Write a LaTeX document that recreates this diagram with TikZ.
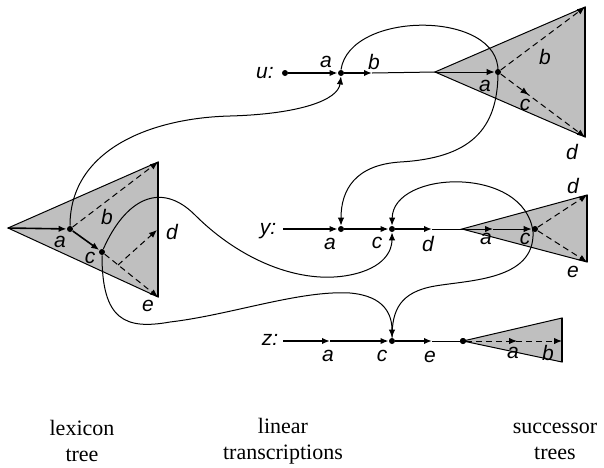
\documentclass[tikz,border=0pt]{standalone}
\usepackage{fontspec}
\setmainfont{Liberation Serif}
\newfontfamily\labfont{Liberation Sans}
\usetikzlibrary{arrows.meta,decorations.markings}
\begin{document}
\begin{tikzpicture}[x=0.5pt,y=-0.5pt,
  tr/.style={line width=0.8pt},
  thinl/.style={line width=0.5pt},
  dsh/.style={line width=0.5pt,dash pattern=on 3pt off 2pt},
  tip/.style={-{Latex[length=4pt,width=3.2pt]}},
  marr/.style={postaction={decorate},decoration={markings,mark=at position #1 with {\arrow{Latex[length=4pt,width=3.2pt]}}}},
  st/.style={circle,fill=black,inner sep=0pt,minimum size=3pt},
  lab/.style={font=\labfont\itshape\fontsize{10.5}{12}\selectfont,inner sep=0pt},
  treebox/.style={fill=black!25,draw=black,line width=0.5pt},
  edgeline/.style={line width=0.8pt},
  link/.style={line width=0.5pt},
  caption/.style={font=\fontsize{11}{13}\selectfont,align=center,inner sep=0pt},
]
\useasboundingbox (0,0) rectangle (604,467);

% ---------- trees (backgrounds) ----------
\coordinate (lapex) at (8,228);
\coordinate (ltop) at (158,162);
\coordinate (lbot) at (158,297);
\filldraw[treebox] (lapex) -- (ltop) -- (lbot) -- cycle;
\draw[edgeline] (ltop) -- (lbot);

\coordinate (uapex) at (435,72);
\coordinate (utop) at (585,7);
\coordinate (ubot) at (585,137);
\filldraw[treebox] (uapex) -- (utop) -- (ubot) -- cycle;
\draw[edgeline] (utop) -- (ubot);

\coordinate (yapex) at (462,229);
\coordinate (ytop) at (587,195);
\coordinate (ybot) at (587,262);
\filldraw[treebox] (yapex) -- (ytop) -- (ybot) -- cycle;
\draw[edgeline] (ytop) -- (ybot);

\coordinate (ztop) at (562,318);
\coordinate (zbot) at (562,362);
\coordinate (zend) at (562,341);

% ---------- lexicon tree ----------
\node[st] (la) at (70,229) {};
\node[st] (lc) at (102,252) {};
\coordinate (lm) at (118,265);
\coordinate (ld) at (157,230);
\draw[tr,tip] (lapex) -- (la);
\draw[tr,tip] (la) -- (lc);
\draw[dsh,tip] (la) -- (ltop);
\draw[dsh,tip] (lc) -- (lbot);
\draw[dsh,tip] (lm) -- (ld);
\node[lab] at (60,242) {a};
\node[lab] at (107,217) {b};
\node[lab] at (90,258) {c};
\node[lab] at (172,232) {d};
\node[lab] at (148,306) {e};

% ---------- row u ----------
\node[lab] at (265,73) {u:};
\node[st] (u0) at (285,73) {};
\node[st] (ua) at (341,73) {};
\coordinate (ub) at (372,73);
\node[st] (ut) at (498,72) {};
\draw[tr,tip] (u0) -- (ua);
\draw[tr,tip] (ua) -- (ub);
\draw[thinl] (ub) -- (uapex);
\draw[thinl,tip] (uapex) -- (ut);
\draw[dsh,tip] (ut) -- (utop);
\draw[dsh,tip,marr=0.33] (ut) -- (ubot);
\node[lab] at (326,62) {a};
\node[lab] at (374,62) {b};
\node[lab] at (485,86) {a};
\node[lab] at (545,57) {b};
\node[lab] at (525,105) {c};
\node[lab] at (572,152) {d};

% ---------- row y ----------
\node[lab] at (268,231) {y:};
\coordinate (y0) at (283,229);
\node[st] (ya) at (341,229) {};
\node[st] (yc) at (392,229) {};
\coordinate (yd) at (432,229);
\coordinate (yt1) at (493,229);
\node[st] (yt) at (535,229) {};
\draw[tr,tip] (y0) -- (ya);
\draw[tr,tip] (ya) -- (yc);
\draw[tr,tip] (yc) -- (yd);
\draw[thinl] (yd) -- (yapex);
\draw[thinl,tip] (yapex) -- (yt1);
\draw[thinl,tip] (yt1) -- (yt);
\draw[dsh,tip] (yt) -- (ytop);
\draw[dsh,tip] (yt) -- (ybot);
\node[lab] at (330,244) {a};
\node[lab] at (377,243) {c};
\node[lab] at (428,244) {d};
\node[lab] at (486,239) {a};
\node[lab] at (525,239) {c};
\node[lab] at (573,186) {d};
\node[lab] at (573,272) {e};

% ---------- row z ----------
\node[lab] at (270,340) {z:};
\coordinate (z0) at (283,341);
\coordinate (za) at (330,341);
\node[st] (zc) at (392,341) {};
\coordinate (ze) at (432,341);
\node[st] (zt) at (463,341) {};
\filldraw[treebox] (zt.center) -- (ztop) -- (zbot) -- cycle;
\draw[edgeline] (ztop) -- (zbot);
\node[st] at (zt) {};
\draw[tr,tip] (z0) -- (za);
\draw[tr,tip] (za) -- (zc);
\draw[tr,tip] (zc) -- (ze);
\draw[thinl] (ze) -- (zt);
\draw[dsh,tip,marr=0.53] (zt) -- (zend);
\node[lab] at (328,356) {a};
\node[lab] at (382,356) {c};
\node[lab] at (430,357) {e};
\node[lab] at (513,353) {a};
\node[lab] at (548,353) {b};

% ---------- links ----------
\draw[link,tip] (la) .. controls (70,150) and (150,118) .. (230,116)
  .. controls (300,114) and (338,100) .. (ua.south);
\draw[link,tip] (ua.north) .. controls (350,10) and (500,10) .. (498,72)
  .. controls (498,130) and (470,158) .. (400,162)
  .. controls (355,165) and (341,190) .. (ya.north);
\draw[link,tip] (zc.north) .. controls (392,310) and (400,292) .. (435,286)
  .. controls (470,280) and (535,280) .. (533,232)
  .. controls (525,165) and (393,170) .. (yc.north);
\draw[link,tip] (lc) .. controls (125,200) and (160,180) .. (195,215)
  .. controls (240,260) and (300,285) .. (350,275)
  .. controls (385,268) and (392,250) .. (yc.south);
\draw[link,tip] (lc) .. controls (102,320) and (125,330) .. (170,322)
  .. controls (230,315) and (300,290) .. (350,293)
  .. controls (385,296) and (392,315) .. (zc.north);

% ---------- captions ----------
\node[caption] at (82,441) {lexicon\\tree};
\node[caption] at (283,441) {linear\\transcriptions};
\node[caption] at (555,441) {successor\\trees};
\end{tikzpicture}
\end{document}
